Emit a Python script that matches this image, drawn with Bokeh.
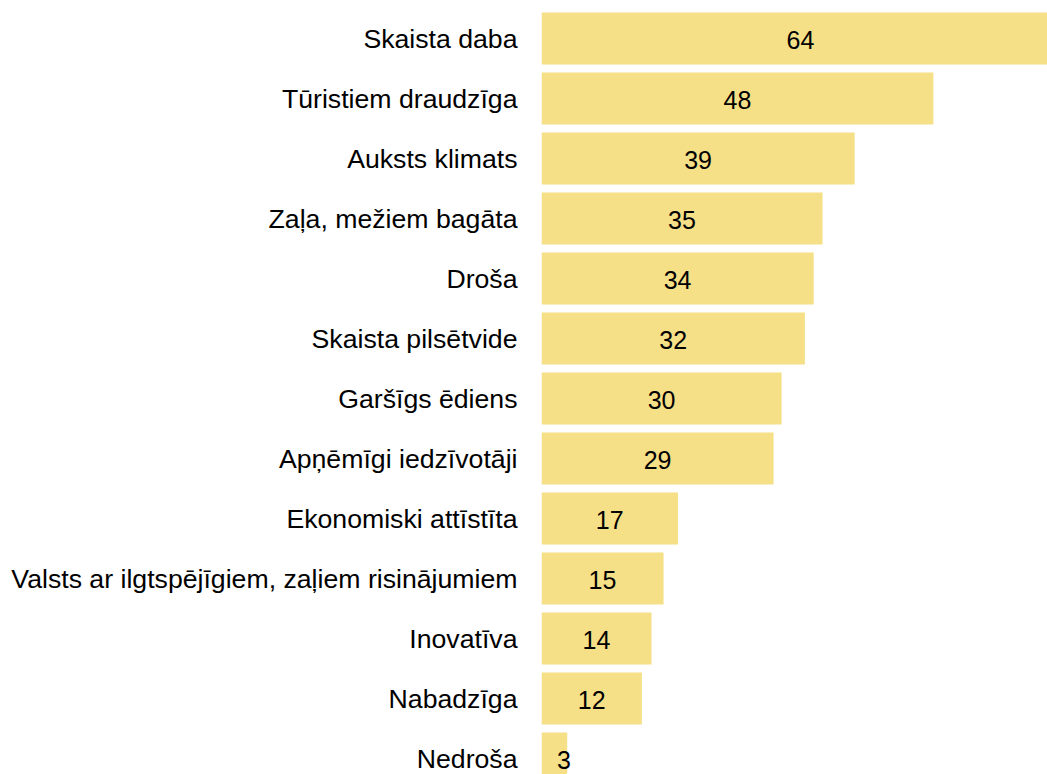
from bokeh.plotting import figure
from bokeh.models import ColumnDataSource, Range1d, FixedTicker
from bokeh.core.properties import value
from bokeh.embed import file_html
from bokeh.resources import INLINE

categories = [
    "Skaista daba",
    "Tūristiem draudzīga",
    "Auksts klimats",
    "Zaļa, mežiem bagāta",
    "Droša",
    "Skaista pilsētvide",
    "Garšīgs ēdiens",
    "Apņēmīgi iedzīvotāji",
    "Ekonomiski attīstīta",
    "Valsts ar ilgtspējīgiem, zaļiem risinājumiem",
    "Inovatīva",
    "Nabadzīga",
    "Nedroša",
]
values = [64.5, 48.8, 39.0, 35.0, 33.9, 32.8, 29.9, 28.9, 17.0, 15.2, 13.7, 12.5, 3.2]
labels = ["64", "48", "39", "35", "34", "32", "30", "29", "17", "15", "14", "12", "3"]

W, H = 1047, 774
LEFT = 541
PITCH = 60.0
SCALE = 8.03
TOP_END = 38 / PITCH

ypos = [-i for i in range(len(categories))]
label_x = [max(v / 2, 2.8) for v in values]

src = ColumnDataSource(dict(y=ypos, v=values, lab=labels, lx=label_x))

p = figure(
    width=W, height=H,
    output_backend="svg", toolbar_location=None,
    x_range=Range1d(0, (W - LEFT) / SCALE),
    y_range=Range1d(TOP_END - H / PITCH, TOP_END),
    min_border_left=LEFT, min_border_right=0,
    min_border_top=0, min_border_bottom=0,
)
p.outline_line_color = None
p.xgrid.visible = False
p.ygrid.visible = False
p.xaxis.visible = False

p.hbar(y="y", left=0, right="v", height=52 / PITCH, source=src,
       fill_color="#F5DF87", line_color=None)

p.text(x="lx", y="y", text="lab", source=src,
       text_align="center", text_baseline="middle", y_offset=1,
       text_font=value("Liberation Sans"), text_font_size="25px",
       text_color="#000000")

ax = p.yaxis[0]
ax.ticker = FixedTicker(ticks=ypos)
ax.major_label_overrides = {y: c for y, c in zip(ypos, categories)}
ax.axis_line_color = None
ax.major_tick_line_color = None
ax.minor_tick_line_color = None
ax.major_tick_out = 0
ax.major_tick_in = 0
ax.major_label_standoff = 24
ax.major_label_text_font = "Liberation Sans"
ax.major_label_text_font_size = "26.67px"
ax.major_label_text_color = "#000000"

open("out.html", "w").write(file_html(p, INLINE))
